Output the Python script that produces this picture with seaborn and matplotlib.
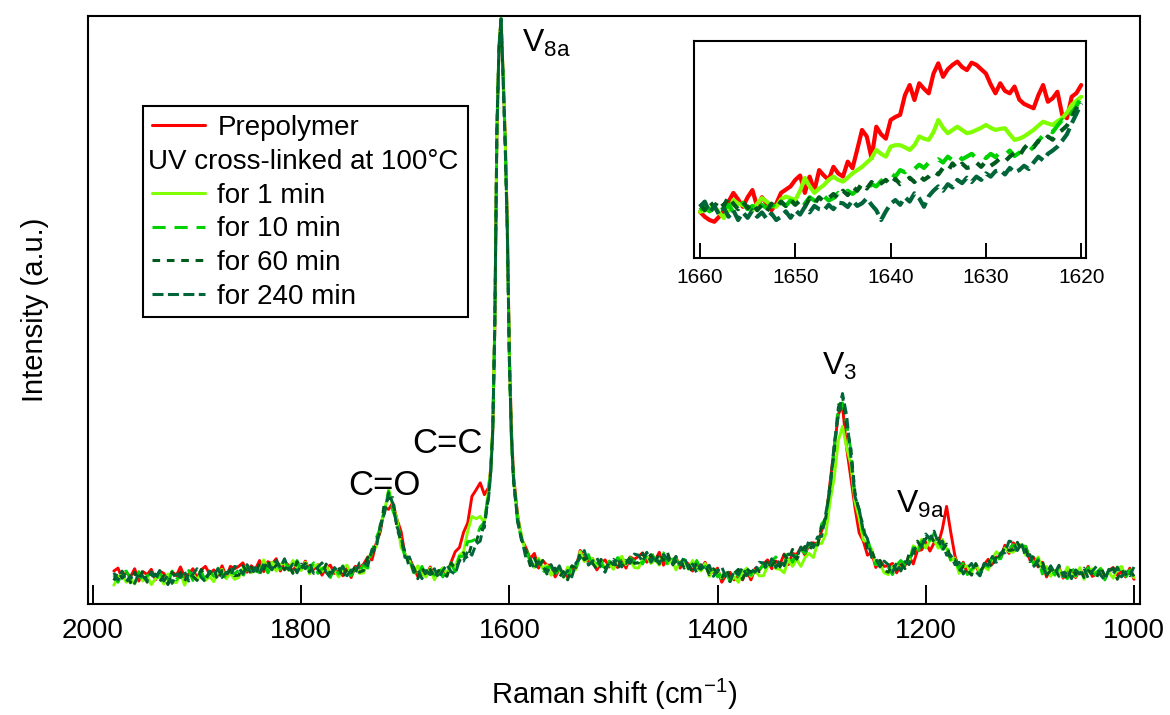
import numpy as np
import matplotlib
matplotlib.use("Agg")
import matplotlib.pyplot as plt
import seaborn as sns
from matplotlib.lines import Line2D
from matplotlib.patches import Rectangle

# ---------------- main spectrum: Raman shift grid (cm-1) ----------------
shift_a = np.arange(1980, 1623, -4)   # 1980 ... 1624
shift_b = np.arange(1620, 1597, -2)   # 1620 ... 1598 (v8a peak)
shift_c = np.arange(1596, 999, -4)    # 1596 ... 1000
raman_shift = np.concatenate([shift_a, shift_b, shift_c])

# Prepolymer (red)
pre_a = [5.6, 6.1, 4.4, 5.4, 4.6, 6.0, 3.9, 5.5, 5.0, 5.9,
         4.1, 5.6, 5.2, 4.2, 5.5, 4.8, 6.3, 4.6, 5.1, 6.0,
         4.4, 5.8, 6.4, 5.1, 5.8, 4.9, 6.5, 4.6, 6.4, 6.0,
         6.4, 7.0, 5.4, 6.5, 5.9, 7.4, 5.5, 7.2, 6.8, 7.7,
         5.6, 7.1, 6.6, 5.6, 6.8, 6.0, 7.3, 5.6, 5.9, 6.7,
         4.9, 6.2, 6.6, 5.2, 5.7, 4.8, 6.3, 4.5, 6.4, 6.1,
         6.8, 8.0, 7.5, 10.3, 12.3, 16.4, 16.1, 17.2, 14.4, 12.3,
         8.1, 7.8, 6.2, 4.7, 5.8, 4.9, 6.3, 4.6, 5.1, 6.1,
         4.8, 7.1, 8.9, 9.6, 12.2, 13.8, 18.3, 19.4, 20.6, 18.6]
pre_b = [19.8, 22.8, 29.5, 47.0, 80.0, 94.5, 99.5, 90.0, 79.5, 65.0, 43.0, 29.5]
pre_c = [21.8, 15.0, 10.9, 9.5, 7.7, 8.6, 6.1, 7.4, 6.6, 6.6,
         4.6, 5.9, 5.4, 4.5, 6.1, 6.2, 9.1, 7.7, 7.3, 7.7,
         5.8, 7.0, 7.5, 6.3, 7.0, 6.2, 7.8, 6.1, 8.0, 7.6,
         8.1, 8.7, 7.1, 8.2, 7.4, 8.8, 6.6, 8.0, 7.3, 8.0,
         6.1, 7.4, 6.8, 5.6, 6.8, 5.9, 7.1, 5.2, 5.4, 6.1,
         3.7, 4.9, 5.4, 4.1, 4.8, 4.1, 5.8, 4.1, 6.0, 5.7,
         6.8, 7.5, 6.0, 7.3, 6.8, 8.5, 6.7, 8.6, 8.4, 9.6,
         8.3, 10.3, 10.4, 10.2, 12.5, 14.2, 20.6, 26.4, 32.3, 33.7,
         26.5, 21.4, 16.4, 12.1, 10.7, 8.3, 8.8, 6.2, 7.4, 6.4,
         6.5, 6.9, 5.3, 6.7, 6.5, 8.1, 6.8, 9.1, 9.2, 10.5,
         9.0, 10.4, 10.2, 12.8, 16.6, 12.2, 8.2, 6.0, 7.1, 5.2,
         5.6, 6.6, 5.0, 6.7, 7.6, 6.8, 8.0, 7.8, 10.0, 8.6,
         10.4, 9.7, 9.8, 9.8, 7.5, 7.8, 6.3, 7.1, 4.6, 6.0,
         5.4, 6.2, 4.4, 5.9, 5.5, 4.5, 5.8, 5.0, 6.4, 4.7,
         5.1, 6.0, 4.3, 5.7, 6.2, 4.9, 5.5, 4.6, 6.1, 4.2]

# UV cross-linked 1 min (lime)
m1_a = [3.2, 4.6, 5.0, 3.7, 4.3, 3.4, 5.4, 3.9, 4.8, 3.3,
        4.3, 4.6, 3.4, 5.1, 3.9, 3.6, 5.2, 3.2, 4.7, 5.1,
        4.1, 5.3, 4.0, 4.7, 3.8, 5.3, 5.9, 4.3, 5.2, 4.2,
        4.5, 6.0, 6.5, 5.3, 6.1, 5.3, 7.5, 6.1, 7.1, 5.6,
        6.7, 7.0, 5.7, 7.4, 6.1, 5.7, 7.1, 5.1, 6.4, 6.7,
        5.5, 6.6, 5.1, 5.7, 4.6, 6.1, 6.6, 5.1, 6.1, 5.2,
        5.3, 7.4, 9.1, 9.7, 13.4, 15.7, 19.5, 16.7, 14.4, 9.6,
        8.4, 7.3, 5.3, 6.5, 5.1, 4.6, 6.1, 4.1, 5.6, 6.1,
        5.3, 7.0, 6.4, 8.3, 8.9, 12.4, 14.9, 14.5, 14.9, 13.8]
m1_b = [19.5, 23.0, 30.0, 48.5, 81.5, 95.5, 99.3, 90.5, 79.0, 64.5, 42.0, 28.5]
m1_c = [21.0, 14.7, 11.4, 8.3, 7.7, 6.2, 7.8, 6.0, 6.6, 4.9,
        5.7, 5.8, 4.5, 6.3, 5.4, 5.9, 8.9, 7.2, 7.8, 7.7,
        6.4, 7.4, 6.0, 6.8, 5.9, 7.5, 8.1, 6.7, 7.7, 6.2,
        6.1, 7.6, 8.1, 6.9, 7.5, 6.6, 8.5, 6.8, 7.5, 5.8,
        7.2, 7.3, 5.9, 7.4, 6.1, 5.6, 6.9, 4.7, 5.9, 5.6,
        4.3, 5.3, 3.9, 4.6, 3.7, 5.4, 6.1, 4.7, 5.7, 4.8,
        4.8, 6.4, 7.0, 6.0, 5.9, 5.3, 7.6, 6.4, 7.6, 6.4,
        7.9, 8.6, 7.9, 10.3, 10.3, 11.9, 17.4, 21.4, 27.8, 30.2,
        26.6, 23.8, 17.4, 14.6, 10.9, 10.3, 9.3, 6.7, 6.8, 5.3,
        5.0, 6.3, 6.8, 5.9, 7.1, 7.0, 9.9, 9.3, 11.0, 9.5,
        10.8, 10.9, 9.5, 11.0, 9.4, 7.4, 7.8, 5.2, 6.3, 6.5,
        5.4, 6.7, 5.4, 6.4, 5.8, 7.8, 8.9, 8.0, 9.5, 8.9,
        8.8, 10.0, 10.1, 8.3, 8.3, 6.7, 8.0, 5.9, 6.4, 4.7,
        5.7, 5.9, 4.6, 6.3, 5.1, 4.7, 6.2, 4.2, 5.6, 6.0,
        4.9, 6.1, 4.7, 5.4, 4.4, 5.9, 6.4, 4.8, 5.6, 4.5]

# UV cross-linked 10 min
m10_a = [4.9, 3.7, 5.2, 5.6, 4.2, 3.9, 5.5, 3.5, 4.8, 5.1,
         3.9, 5.3, 4.3, 3.5, 5.6, 4.1, 5.1, 4.4, 5.7, 4.0,
         5.0, 5.6, 3.8, 5.6, 4.7, 6.1, 5.1, 4.4, 5.8, 5.1,
         5.8, 4.7, 6.3, 6.8, 5.6, 5.4, 7.2, 5.3, 6.7, 7.0,
         5.9, 7.3, 6.2, 5.4, 7.4, 5.8, 6.6, 5.9, 7.0, 5.2,
         6.0, 6.5, 4.5, 6.2, 5.1, 6.5, 5.4, 4.8, 6.3, 5.7,
         6.6, 6.1, 8.9, 11.2, 12.9, 15.8, 19.2, 15.9, 14.0, 11.0,
         7.6, 7.6, 5.8, 4.5, 6.4, 4.7, 5.6, 4.9, 6.2, 4.6,
         5.7, 6.8, 5.5, 8.1, 8.1, 10.6, 10.7, 11.1, 13.1, 13.9]
m10_b = [19.0, 22.5, 29.5, 47.0, 80.0, 94.0, 99.6, 89.8, 78.5, 64.0, 41.0, 28.0]
m10_c = [21.2, 13.6, 10.8, 9.5, 7.1, 6.3, 7.5, 5.2, 6.2, 6.3,
         4.9, 6.1, 5.0, 4.3, 6.7, 6.0, 8.4, 8.0, 8.4, 6.2,
         6.9, 7.3, 5.4, 7.3, 6.4, 7.9, 6.9, 6.4, 7.9, 7.2,
         7.9, 6.8, 8.4, 8.9, 7.5, 7.2, 8.7, 6.5, 7.6, 7.7,
         6.4, 7.6, 6.4, 5.4, 7.4, 5.7, 6.4, 5.5, 6.5, 4.6,
         5.3, 5.7, 3.8, 5.6, 4.7, 6.3, 5.4, 4.9, 6.4, 5.8,
         6.6, 5.6, 7.3, 8.0, 6.9, 6.9, 8.8, 7.1, 8.7, 9.3,
         8.6, 10.5, 10.0, 10.0, 13.6, 14.5, 19.9, 26.2, 33.9, 34.2,
         30.6, 26.2, 18.3, 16.1, 12.1, 11.2, 8.5, 6.7, 7.3, 6.0,
         6.3, 5.0, 6.6, 7.4, 6.6, 7.1, 9.6, 8.5, 10.6, 11.5,
         10.8, 12.0, 10.7, 9.3, 10.4, 7.3, 7.3, 6.0, 6.9, 5.0,
         5.9, 6.6, 4.8, 6.9, 6.3, 8.2, 7.7, 7.7, 9.7, 9.4,
         10.1, 8.7, 9.9, 9.8, 7.8, 6.8, 7.7, 5.1, 6.0, 6.1,
         4.9, 6.2, 5.1, 4.3, 6.4, 4.8, 5.7, 5.0, 6.2, 4.5,
         5.4, 6.0, 4.1, 5.9, 4.9, 6.3, 5.2, 4.5, 5.8, 5.0]

# UV cross-linked 60 min
m60_a = [4.0, 5.5, 4.4, 5.1, 3.6, 5.4, 4.2, 5.7, 3.7, 4.7,
         5.1, 3.8, 4.8, 3.3, 5.4, 4.3, 5.4, 3.9, 5.2, 4.7,
         4.0, 5.9, 4.5, 5.2, 5.9, 4.0, 5.7, 4.9, 5.9, 4.8,
         4.9, 6.5, 5.5, 6.3, 5.0, 6.9, 5.9, 7.5, 5.6, 6.6,
         7.1, 5.8, 6.7, 5.2, 7.2, 6.0, 6.9, 5.4, 6.5, 5.9,
         5.0, 6.8, 5.2, 5.8, 6.3, 4.4, 6.0, 5.3, 6.4, 5.4,
         5.7, 7.9, 8.1, 10.7, 12.3, 17.3, 17.9, 18.1, 12.9, 10.6,
         8.8, 6.1, 6.3, 4.3, 6.2, 4.9, 5.9, 4.4, 5.7, 5.3,
         4.7, 7.0, 6.0, 7.3, 8.7, 7.7, 10.3, 10.6, 12.6, 13.0]
m60_b = [18.5, 22.3, 29.5, 48.0, 81.0, 95.0, 99.4, 89.0, 77.5, 63.0, 41.5, 28.5]
m60_c = [20.7, 14.5, 10.4, 9.0, 6.5, 7.8, 6.2, 7.4, 5.1, 5.9,
         6.1, 4.6, 5.5, 4.1, 6.5, 6.2, 8.7, 7.5, 7.9, 6.9,
         5.9, 7.6, 6.1, 6.9, 7.6, 5.8, 7.5, 6.9, 8.0, 6.9,
         7.0, 8.6, 7.6, 8.4, 6.9, 8.7, 7.4, 8.7, 6.5, 7.3,
         7.6, 6.1, 6.9, 5.2, 7.2, 5.9, 6.7, 5.0, 6.0, 5.3,
         4.3, 6.0, 4.5, 5.2, 5.9, 4.2, 6.0, 5.4, 6.5, 5.5,
         5.7, 7.4, 6.5, 7.5, 6.3, 8.4, 7.5, 9.3, 7.6, 8.9,
         9.8, 9.0, 10.5, 9.8, 13.4, 14.7, 20.2, 25.7, 33.4, 35.4,
         30.1, 26.5, 19.0, 15.7, 13.3, 9.1, 9.1, 7.2, 7.4, 5.7,
         5.4, 6.8, 5.8, 6.9, 6.0, 8.6, 8.3, 10.7, 9.5, 11.1,
         12.0, 10.5, 11.2, 9.1, 10.2, 7.5, 7.6, 5.5, 6.4, 5.7,
         4.9, 6.9, 5.5, 6.5, 7.5, 6.1, 8.3, 8.2, 9.8, 9.1,
         9.2, 10.5, 9.1, 9.3, 7.2, 8.3, 6.4, 7.3, 4.9, 5.7,
         6.1, 4.7, 5.6, 4.1, 6.2, 5.0, 6.0, 4.5, 5.7, 5.2,
         4.4, 6.3, 4.8, 5.5, 6.1, 4.2, 5.8, 5.0, 5.9, 4.7]

# UV cross-linked 240 min
m240_a = [5.3, 4.1, 5.6, 3.8, 4.8, 3.5, 5.2, 4.7, 3.9, 5.5,
          4.2, 5.7, 3.9, 4.9, 3.5, 5.1, 4.5, 5.5, 3.9, 5.1,
          6.0, 4.5, 3.8, 5.6, 5.0, 6.0, 4.5, 5.4, 4.8, 6.4,
          6.2, 5.1, 6.7, 5.0, 6.2, 5.0, 6.9, 6.5, 5.8, 7.4,
          6.2, 7.7, 5.8, 6.8, 5.3, 6.8, 6.0, 7.0, 5.2, 6.3,
          7.0, 5.4, 4.5, 6.2, 5.4, 6.4, 4.8, 5.8, 5.3, 7.0,
          7.0, 6.5, 9.3, 9.4, 13.5, 15.4, 18.9, 17.1, 13.1, 11.4,
          7.9, 8.0, 5.4, 5.9, 4.3, 5.7, 5.0, 6.0, 4.4, 5.7,
          6.7, 5.5, 5.1, 7.4, 7.3, 9.0, 8.3, 10.2, 10.7, 14.0]
m240_b = [18.0, 22.0, 29.0, 47.5, 80.5, 94.5, 99.8, 89.5, 78.0, 63.5, 41.0, 28.0]
m240_c = [21.3, 13.8, 11.0, 7.7, 7.7, 5.9, 7.2, 6.4, 5.3, 6.7,
          5.2, 6.5, 4.6, 5.7, 4.6, 7.0, 7.8, 9.1, 6.6, 7.3,
          7.9, 6.2, 5.4, 7.3, 6.7, 7.8, 6.3, 7.4, 6.9, 8.5,
          8.3, 7.2, 8.8, 7.1, 8.1, 6.8, 8.4, 7.7, 6.7, 8.1,
          6.7, 8.0, 6.0, 6.8, 5.3, 6.7, 5.8, 6.6, 4.7, 5.7,
          6.3, 4.6, 3.8, 5.6, 5.0, 6.2, 4.8, 5.9, 5.4, 7.1,
          7.0, 6.0, 7.7, 6.2, 7.5, 6.5, 8.5, 8.3, 7.8, 9.7,
          8.9, 10.9, 9.6, 11.4, 11.5, 15.5, 19.3, 27.3, 32.1, 35.8,
          32.1, 25.1, 18.3, 16.1, 12.4, 11.1, 7.9, 7.7, 6.3, 7.3,
          6.7, 5.4, 7.0, 5.6, 7.2, 6.7, 9.3, 9.7, 9.7, 11.9,
          11.1, 12.4, 10.3, 10.7, 8.3, 8.3, 6.7, 7.1, 5.1, 6.1,
          6.9, 5.5, 4.8, 6.9, 6.6, 8.1, 7.1, 8.7, 8.7, 10.7,
          10.5, 9.1, 10.3, 8.0, 8.4, 6.4, 7.4, 6.3, 5.1, 6.5,
          5.2, 6.6, 4.7, 5.7, 4.3, 5.8, 5.1, 6.1, 4.4, 5.6,
          6.4, 4.9, 4.1, 5.9, 5.2, 6.2, 4.6, 5.5, 4.8, 6.3]

# ---------------- inset (1660 - 1620 cm-1) ----------------
inset_shift = np.arange(1660.0, 1619.9, -0.5)
inset_pre = [21.3, 19.0, 17.5, 16.7, 19.0, 22.0, 26.0, 30.0, 27.0, 23.6,
             28.0, 31.3, 23.6, 28.0, 25.0, 22.0, 25.0, 30.0, 31.5, 33.0,
             36.0, 38.0, 30.0, 37.5, 31.0, 40.5, 38.0, 36.0, 42.0, 39.0,
             37.5, 44.4, 41.4, 50.0, 59.0, 56.0, 46.0, 60.5, 57.0, 55.0,
             63.6, 65.0, 66.0, 75.0, 79.7, 72.8, 80.5, 78.0, 75.9, 85.0,
             89.7, 83.5, 87.0, 89.0, 90.5, 88.0, 86.6, 90.0, 89.0, 87.0,
             85.0, 80.0, 75.9, 80.5, 77.0, 75.9, 79.0, 73.0, 71.0, 70.0,
             69.0, 75.0, 79.7, 72.0, 73.6, 76.6, 66.0, 64.4, 74.3, 76.0,
             79.7]
inset_1 = [21.3, 22.0, 23.0, 23.6, 21.0, 18.4, 22.0, 26.7, 25.0, 24.4,
           23.0, 22.0, 25.0, 27.6, 26.0, 24.0, 23.6, 27.0, 28.3, 27.5,
           26.7, 31.0, 36.9, 33.0, 30.0, 32.0, 33.6, 36.0, 37.5, 36.0,
           35.2, 37.0, 39.0, 40.5, 42.0, 44.0, 46.0, 49.8, 48.0, 46.7,
           51.3, 52.0, 52.0, 51.0, 49.8, 52.0, 56.0, 55.0, 54.4, 58.0,
           63.6, 60.0, 57.5, 59.0, 60.5, 59.0, 57.5, 58.0, 59.0, 60.0,
           61.3, 60.0, 59.0, 59.5, 59.8, 57.0, 54.4, 55.0, 56.0, 57.5,
           59.0, 61.0, 62.8, 62.0, 61.3, 63.0, 64.4, 67.0, 70.5, 72.5,
           74.3]
inset_10 = [22.0, 24.0, 21.5, 23.0, 25.0, 22.5, 24.5, 21.0, 23.5, 25.5,
            22.5, 24.0, 21.5, 24.5, 23.0, 25.0, 22.5, 25.5, 24.0, 26.5,
            24.5, 27.0, 25.0, 28.0, 26.5, 25.5, 28.5, 26.5, 27.6, 30.0,
            28.5, 31.0, 29.5, 31.3, 33.5, 31.5, 34.0, 33.0, 35.5, 37.0,
            39.0, 37.5, 40.5, 39.5, 42.0, 41.0, 43.0, 41.5, 44.0, 43.6,
            45.5, 44.0, 46.7, 45.0, 47.5, 45.5, 46.7, 48.0, 46.0, 47.5,
            46.0, 48.0, 46.5, 49.0, 47.5, 49.5, 47.0, 48.5, 50.0, 49.0,
            51.3, 54.0, 56.5, 59.0, 58.0, 61.0, 63.6, 62.5, 67.0, 70.0,
            74.3]
inset_60 = [25.0, 22.0, 26.0, 23.5, 27.0, 24.0, 28.3, 25.0, 22.5, 26.0,
            23.0, 25.5, 22.0, 24.5, 21.5, 25.0, 23.0, 26.0, 24.0, 27.0,
            24.5, 26.5, 23.5, 27.5, 25.0, 28.0, 26.0, 27.6, 29.5, 27.5,
            31.0, 29.0, 33.0, 31.0, 34.5, 32.0, 35.0, 33.0, 34.4, 36.0,
            33.5, 36.5, 34.0, 35.2, 37.0, 35.0, 38.0, 36.0, 37.5, 40.0,
            38.5, 41.5, 40.0, 43.6, 41.0, 43.5, 41.5, 42.0, 44.0, 42.0,
            44.5, 42.5, 44.0, 46.0, 44.5, 46.7, 48.5, 47.0, 50.5, 52.9,
            51.0, 54.0, 53.0, 56.0, 54.5, 57.5, 59.0, 61.0, 65.0, 69.0,
            73.0]
inset_240 = [23.6, 26.0, 21.0, 24.0, 20.0, 23.0, 19.0, 22.0, 17.5, 21.0,
             18.5, 22.0, 19.0, 21.0, 18.0, 20.5, 17.5, 19.0, 21.5, 18.5,
             22.0, 20.0, 23.6, 21.0, 24.0, 22.5, 22.0, 24.5, 22.5, 25.5,
             25.2, 23.5, 26.5, 24.0, 25.2, 27.5, 24.5, 22.0, 17.5, 21.5,
             25.0, 26.7, 24.5, 28.0, 26.0, 29.8, 27.5, 23.6, 28.5, 31.0,
             33.0, 31.0, 34.0, 32.5, 36.0, 34.5, 37.0, 35.0, 37.5, 36.0,
             39.0, 37.5, 40.0, 40.5, 38.5, 41.5, 39.5, 40.5, 42.5, 41.0,
             44.0, 46.7, 45.0, 48.0, 49.5, 51.3, 54.0, 57.0, 62.0, 66.5,
             71.3]

labels = ["Prepolymer", "for 1 min", "for 10 min", "for 60 min", "for 240 min"]
main_series = [pre_a + pre_b + pre_c, m1_a + m1_b + m1_c, m10_a + m10_b + m10_c,
               m60_a + m60_b + m60_c, m240_a + m240_b + m240_c]
inset_series = [inset_pre, inset_1, inset_10, inset_60, inset_240]

# ---------------- styling ----------------
colors = ["#ff0000", "#80ff00", "#00d200", "#005a1e", "#00663a"]
styles = ["-", "-", (0, (4.3, 2.9)), (0, (2.5, 2.2)), (0, (3.6, 1.45))]

sns.set_style("white")
plt.rcParams['font.family'] = ['Liberation Sans', 'DejaVu Sans']
plt.rcParams['mathtext.fontset'] = 'custom'
plt.rcParams['mathtext.rm'] = 'Liberation Sans'
plt.rcParams['mathtext.it'] = 'Liberation Sans:italic'
plt.rcParams['mathtext.bf'] = 'Liberation Sans:bold'
plt.rcParams['text.color'] = 'black'
plt.rcParams['axes.labelcolor'] = 'black'
plt.rcParams['xtick.color'] = 'black'
plt.rcParams['ytick.color'] = 'black'

fig = plt.figure(figsize=(11.7, 7.15), dpi=100)
ax = fig.add_axes([88 / 1170, 1 - 604 / 715, 1052 / 1170, 588 / 715])

for y, c, ls in zip(main_series, colors, styles):
    sns.lineplot(x=raman_shift, y=np.asarray(y), ax=ax, color=c, linestyle=ls,
                 linewidth=2.1, estimator=None, sort=False, legend=False)

ax.set_xlim(2004.8, 994.2)
ax.set_ylim(0, 100)
ax.set_xticks([2000, 1800, 1600, 1400, 1200, 1000])
ax.set_yticks([])
ax.tick_params(axis='x', bottom=True, top=False, direction='in', length=14,
               width=1.4, color='black', labelcolor='black', labelsize=20, pad=10)
for s in ax.spines.values():
    s.set_color('black')
    s.set_linewidth(1.5)
ax.set_xlabel(r"Raman shift (cm$^{\mathregular{-1}}$)", fontsize=21, labelpad=24)
ax.set_ylabel("Intensity (a.u.)", fontsize=21, labelpad=28)

# peak annotations
ax.text(1720, 18.5, "C=O", ha='center', va='baseline', fontsize=25)
ax.text(1659.5, 25.7, "C=C", ha='center', va='baseline', fontsize=25)
ax.text(1588, 93.9, r"V$_{\mathregular{8a}}$", ha='left', va='baseline', fontsize=23)
ax.text(1299.5, 38.9, r"V$_{\mathregular{3}}$", ha='left', va='baseline', fontsize=23)
ax.text(1228.5, 15.5, r"V$_{\mathregular{9a}}$", ha='left', va='baseline', fontsize=23)

# legend
handles = [Line2D([], [], color=colors[0], ls=styles[0], lw=2.2),
           Line2D([], [], color='none', lw=0)]
handles += [Line2D([], [], color=c, ls=ls, lw=2.2) for c, ls in zip(colors[1:], styles[1:])]
leg_labels = [labels[0], "UV cross-linked at 100°C"] + labels[1:]
leg = ax.legend(handles, leg_labels, loc='upper left',
                bbox_to_anchor=(152 / 1170, 1 - 115 / 715), bbox_transform=fig.transFigure,
                frameon=False, fontsize=20, handlelength=1.9, handletextpad=0.45,
                labelspacing=0.28, borderpad=0, borderaxespad=0)
for t in leg.get_texts():
    t.set_color('black')
leg.get_texts()[1].set_x(-69)
fig.add_artist(Rectangle((143 / 1170, 1 - 317 / 715), 325 / 1170, 211 / 715,
                         transform=fig.transFigure, fill=False, edgecolor='black',
                         linewidth=1.5, zorder=5))

# inset
axi = fig.add_axes([694 / 1170, 1 - 258 / 715, 392 / 1170, 217 / 715])
for y, c, ls in zip(inset_series, colors, styles):
    sns.lineplot(x=inset_shift, y=np.asarray(y), ax=axi, color=c, linestyle=ls,
                 linewidth=3.0, estimator=None, sort=False, legend=False)
axi.set_xlim(1660.63, 1619.5)
axi.set_ylim(0, 100)
axi.set_xticks([1660, 1650, 1640, 1630, 1620])
axi.set_yticks([])
axi.set_xlabel("")
axi.set_ylabel("")
axi.tick_params(axis='x', bottom=True, direction='in', length=11, width=1.4,
                color='black', labelcolor='black', labelsize=15, pad=7)
for s in axi.spines.values():
    s.set_color('black')
    s.set_linewidth(1.5)

fig.savefig("out.png", dpi=100)
